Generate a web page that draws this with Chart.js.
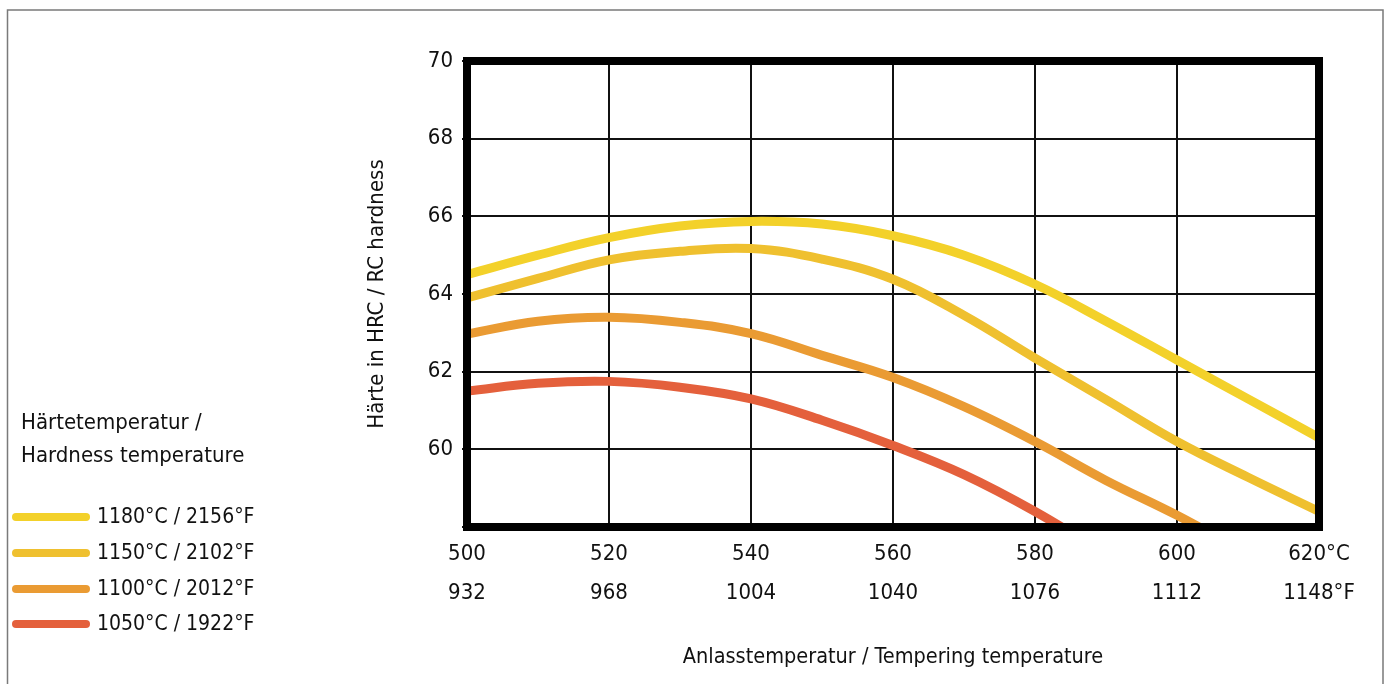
<!DOCTYPE html>
<html>
<head>
<meta charset="utf-8">
<script src="https://cdn.jsdelivr.net/npm/chart.js@4.4.1/dist/chart.umd.min.js"></script>
<style>
  html, body { margin: 0; padding: 0; background: #fff; }
  #wrap { position: relative; width: 1388px; height: 684px; }
</style>
</head>
<body>
<div id="wrap"><canvas id="hardnessChart"></canvas></div>
<script>
// Anlasstemperatur (°C) - Stützpunkte der Kurven
const temps = [500, 510, 520, 530, 540, 550, 560, 570, 580, 590, 600, 610, 620];

// Härte HRC je Härtetemperatur
const hrc1180 = [64.5, 65.0, 65.45, 65.75, 65.87, 65.8, 65.5, 65.0, 64.25, 63.3, 62.3, 61.3, 60.3];
const hrc1150 = [63.9, 64.4, 64.88, 65.1, 65.17, 64.9, 64.38, 63.45, 62.35, 61.28, 60.2, 59.28, 58.4];
const hrc1100 = [62.97, 63.3, 63.4, 63.27, 62.98, 62.42, 61.85, 61.1, 60.2, 59.2, 58.3, 57.3, null];
const hrc1050 = [61.5, 61.7, 61.75, 61.6, 61.3, 60.75, 60.1, 59.35, 58.4, 57.3, null, null, null];

const seriesLabels = ['1180°C / 2156°F', '1150°C / 2102°F', '1100°C / 2012°F', '1050°C / 1922°F'];
const seriesColors = ['#f3d12a', '#efc02f', '#ea9b33', '#e4603c'];

// Achsenbeschriftung
const celsiusTicks = ['500', '520', '540', '560', '580', '600', '620°C'];
const fahrenheitTicks = ['932', '968', '1004', '1040', '1076', '1112', '1148°F'];
const legendTitle = ['Härtetemperatur /', 'Hardness temperature'];

const FONT = "'DejaVu Sans Condensed', 'Liberation Sans', sans-serif";

function toPoints(values) {
    return temps.map((t, i) => ({ x: t, y: values[i] }));
}

// Rahmen um den Plotbereich und um das Bild
const framePlugin = {
    id: 'frame',
    beforeDraw(chart) {
        const ctx = chart.ctx;
        ctx.save();
        ctx.strokeStyle = '#7a7a7a';
        ctx.lineWidth = 1.5;
        ctx.beginPath();
        ctx.moveTo(7.5, 684);
        ctx.lineTo(7.5, 10);
        ctx.lineTo(1383, 10);
        ctx.lineTo(1383, 684);
        ctx.stroke();
        ctx.restore();
    },
    afterDatasetsDraw(chart) {
        const a = chart.chartArea;
        const ctx = chart.ctx;
        ctx.save();
        ctx.strokeStyle = '#000';
        ctx.lineWidth = 8;
        ctx.strokeRect(a.left, a.top, a.right - a.left, a.bottom - a.top);
        ctx.restore();
    }
};

// Legende links unten mit zweizeiligem Titel
const sideLegend = {
    id: 'sideLegend',
    afterDraw(chart) {
        const ctx = chart.ctx;
        ctx.save();
        ctx.fillStyle = '#111';
        ctx.font = '22px ' + FONT;
        ctx.textAlign = 'left';
        ctx.textBaseline = 'alphabetic';
        ctx.fillText(legendTitle[0], 21, 429);
        ctx.fillText(legendTitle[1], 21, 462);

        const rows = [517, 553, 589, 624];
        ctx.font = '21px ' + FONT;
        ctx.textBaseline = 'middle';
        chart.data.datasets.forEach((ds, i) => {
            ctx.strokeStyle = ds.borderColor;
            ctx.lineWidth = 8;
            ctx.lineCap = 'round';
            ctx.beginPath();
            ctx.moveTo(16, rows[i]);
            ctx.lineTo(86, rows[i]);
            ctx.stroke();
            ctx.fillText(ds.label, 97, rows[i] + 1);
        });
        ctx.restore();
    }
};

const seriesValues = [hrc1180, hrc1150, hrc1100, hrc1050];

const ctx = document.getElementById('hardnessChart').getContext('2d');
const hardnessChart = new Chart(ctx, {
    type: 'line',
    data: {
        datasets: seriesValues.map((vals, i) => ({
            label: seriesLabels[i],
            data: toPoints(vals),
            borderColor: seriesColors[i],
            backgroundColor: seriesColors[i],
            borderWidth: 9,
            pointRadius: 0,
            tension: 0.4,
            spanGaps: false,
            clip: 0
        }))
    },
    options: {
        responsive: true,
        maintainAspectRatio: false,
        animation: false,
        layout: {
            padding: { left: 330, right: 69, top: 61, bottom: 0 }
        },
        plugins: {
            legend: { display: false },
            tooltip: { enabled: false }
        },
        scales: {
            x: {
                type: 'linear',
                min: 500,
                max: 620,
                afterFit(scale) { scale.height = 157; },
                ticks: {
                    stepSize: 20,
                    padding: 8,
                    color: '#111',
                    maxRotation: 0,
                    autoSkip: false,
                    font: { family: FONT, size: 22, lineHeight: 1.77 },
                    callback: function(value) {
                        const i = Math.round((value - 500) / 20);
                        return [celsiusTicks[i], fahrenheitTicks[i]];
                    }
                },
                grid: { color: '#111', lineWidth: 2, drawTicks: false },
                border: { display: false },
                title: {
                    display: true,
                    text: 'Anlasstemperatur / Tempering temperature',
                    color: '#111',
                    font: { family: FONT, size: 21.5 },
                    padding: { top: 4, bottom: 14 }
                }
            },
            y: {
                min: 58,
                max: 70,
                afterFit(scale) { scale.width = 137; },
                ticks: {
                    stepSize: 2,
                    padding: 9,
                    color: '#111',
                    font: { family: FONT, size: 22 },
                    callback: v => (v === 58 ? '' : v)
                },
                grid: { color: '#111', lineWidth: 2, tickLength: 5 },
                border: { display: false },
                title: {
                    display: true,
                    text: 'Härte in HRC / RC hardness',
                    color: '#111',
                    font: { family: FONT, size: 22 },
                    padding: { top: 34, bottom: 0 }
                }
            }
        }
    },
    plugins: [framePlugin, sideLegend]
});
</script>
</body>
</html>
